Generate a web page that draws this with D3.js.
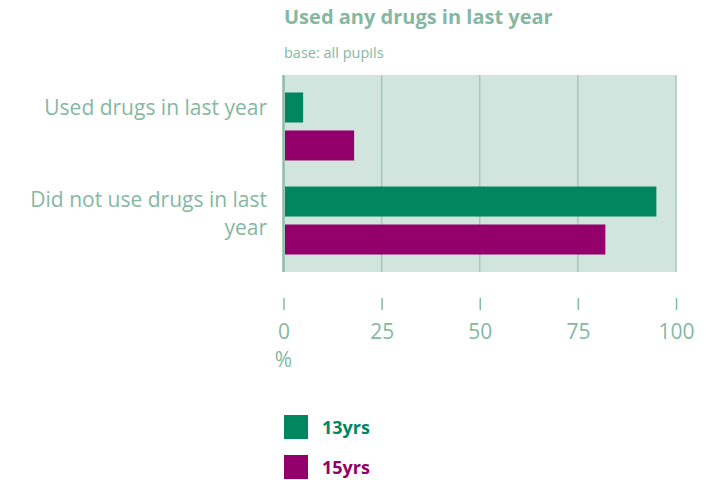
<!DOCTYPE html>
<html><head><meta charset="utf-8">
<script src="https://cdn.jsdelivr.net/npm/d3@7"></script>
<style>body{margin:0;background:#fff}svg{display:block}text{font-family:"Open Sans",sans-serif}</style>
</head><body><svg id="c" width="718" height="480"></svg>
<script>
const categories = ["Used drugs in last year", "Did not use drugs in last year"];
const seriesNames = ["13yrs", "15yrs"];
const values13 = [5, 95];
const values15 = [18, 82];
const xTicks = [0, 25, 50, 75, 100];
const title = "Used any drugs in last year";
const subtitle = "base: all pupils";
const colors = ["#00875f", "#93006b"];
const textCol = "#84b8a2";

const svg = d3.select("#c");
const x = d3.scaleLinear().domain([0, 100]).range([283.5, 676]);
const y = d3.scaleBand().domain(categories).range([75, 272]).paddingInner(0.277).paddingOuter(0.186);
const yi = d3.scaleBand().domain(seriesNames).range([0, y.bandwidth()]).paddingInner(0.21);

// background
svg.append("rect").attr("x", x(0)).attr("y", 75).attr("width", x(100) - x(0)).attr("height", 272 - 75).attr("fill", "#d2e4de");
// gridlines
svg.append("g").selectAll("line").data(xTicks).join("line")
  .attr("x1", d => x(d)).attr("x2", d => x(d)).attr("y1", 75).attr("y2", 272)
  .attr("stroke", d => d === 0 ? "#8fbcaa" : "#a3c9b9").attr("stroke-width", d => d === 0 ? 2.5 : 1.5);

// bars
const data = categories.map((c, i) => ({c, vals: [values13[i], values15[i]]}));
const g = svg.append("g").selectAll("g").data(data).join("g").attr("transform", d => `translate(0,${y(d.c)})`);
g.selectAll("rect").data(d => d.vals.map((v, j) => ({s: seriesNames[j], v, j}))).join("rect")
  .attr("x", x(0) + 1.5).attr("y", d => yi(d.s)).attr("height", yi.bandwidth())
  .attr("width", d => x(d.v) - x(0) - 1.5).attr("fill", d => colors[d.j]);

// x axis
const ax = svg.append("g").attr("transform", "translate(0,298)")
  .call(d3.axisBottom(x).tickValues(xTicks).tickSize(12).tickPadding(14));
ax.select(".domain").remove();
ax.selectAll(".tick line").attr("stroke", textCol).attr("stroke-width", 1.5);
ax.selectAll(".tick text").attr("fill", textCol).attr("font-size", 21).attr("font-family", "'Open Sans',sans-serif");
svg.append("text").attr("x", x(0)).attr("y", 367).attr("text-anchor", "middle").attr("fill", textCol).attr("font-size", 21).text("%");

// category labels
const catLines = [["Used drugs in last year"], ["Did not use drugs in last", "year"]];
categories.forEach((c, i) => {
  const lines = catLines[i];
  const t = svg.append("text").attr("x", 267).attr("text-anchor", "end").attr("fill", textCol).attr("font-size", 21);
  const base = i === 0 ? 115 : 207;
  lines.forEach((l, k) => t.append("tspan").attr("x", 267).attr("y", base + k * 28).text(l));
});

// title
svg.append("text").attr("x", 284).attr("y", 24).attr("fill", textCol).attr("font-size", 20).attr("font-weight", "bold").text(title);
svg.append("text").attr("x", 284).attr("y", 58).attr("fill", textCol).attr("font-size", 14.5).text(subtitle);

// legend
const lg = svg.append("g").selectAll("g").data(seriesNames).join("g")
  .attr("transform", (d, i) => `translate(284,${415 + i * 40})`);
lg.append("rect").attr("width", 24).attr("height", 24).attr("fill", (d, i) => colors[i]);
lg.append("text").attr("x", 38).attr("y", 19).attr("font-size", 18).attr("font-weight", "bold").attr("fill", (d, i) => colors[i]).text(d => d);
</script></body></html>
